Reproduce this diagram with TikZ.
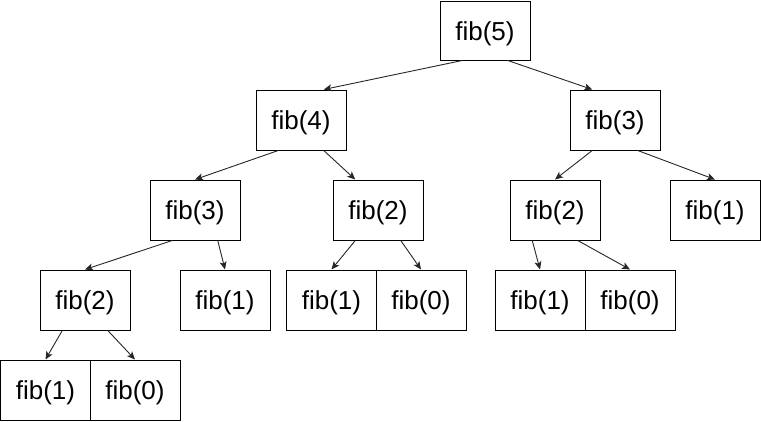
\documentclass[tikz,border=0pt]{standalone}
\usepackage{fontspec}
\setmainfont{Liberation Sans}
\usetikzlibrary{arrows.meta,calc}
\tikzset{
  fbox/.style={draw=black, line width=1pt, rectangle, minimum width=90pt, minimum height=60pt, inner sep=0pt, text height=19pt, text depth=0pt, font=\fontsize{26}{30}\selectfont},
  edge/.style={draw=black!85, line width=0.9pt, -{Stealth[length=8pt,width=7pt,inset=2pt]}}
}
\begin{document}
\begin{tikzpicture}[x=1pt,y=-1pt]
\useasboundingbox (0,0) rectangle (761,421);
\node[fbox, minimum height=59pt] (f5) at (485,30.5) {fib(5)};
\node[fbox] (f4) at (301,120) {fib(4)};
\node[fbox] (f3r) at (615,120) {fib(3)};
\node[fbox] (f3l) at (195,210) {fib(3)};
\node[fbox] (f2m) at (378,210) {fib(2)};
\node[fbox] (f2r) at (555,210) {fib(2)};
\node[fbox] (f1r) at (715,210) {fib(1)};
\node[fbox] (f2l) at (85,300) {fib(2)};
\node[fbox] (f1a) at (225,300) {fib(1)};
\node[fbox] (f1b) at (331.5,300) {fib(1)};
\node[fbox] (f0b) at (421,300) {fib(0)};
\node[fbox] (f1c) at (540,300) {fib(1)};
\node[fbox] (f0c) at (630,300) {fib(0)};
\node[fbox] (f1d) at (45.5,390) {fib(1)};
\node[fbox] (f0d) at (135,390) {fib(0)};
\draw[edge] ($(f5.south west)!0.25!(f5.south east)$) -- ($(f4.north west)!0.75!(f4.north east)$);
\draw[edge] ($(f5.south west)!0.75!(f5.south east)$) -- ($(f3r.north west)!0.25!(f3r.north east)$);
\draw[edge] ($(f4.south west)!0.25!(f4.south east)$) -- ($(f3l.north west)!0.5!(f3l.north east)$);
\draw[edge] ($(f4.south west)!0.75!(f4.south east)$) -- ($(f2m.north west)!0.25!(f2m.north east)$);
\draw[edge] ($(f3r.south west)!0.25!(f3r.south east)$) -- ($(f2r.north west)!0.5!(f2r.north east)$);
\draw[edge] ($(f3r.south west)!0.75!(f3r.south east)$) -- ($(f1r.north west)!0.5!(f1r.north east)$);
\draw[edge] ($(f3l.south west)!0.25!(f3l.south east)$) -- ($(f2l.north west)!0.5!(f2l.north east)$);
\draw[edge] ($(f3l.south west)!0.75!(f3l.south east)$) -- ($(f1a.north west)!0.5!(f1a.north east)$);
\draw[edge] ($(f2m.south west)!0.25!(f2m.south east)$) -- ($(f1b.north west)!0.5!(f1b.north east)$);
\draw[edge] ($(f2m.south west)!0.75!(f2m.south east)$) -- ($(f0b.north west)!0.5!(f0b.north east)$);
\draw[edge] ($(f2r.south west)!0.25!(f2r.south east)$) -- ($(f1c.north west)!0.5!(f1c.north east)$);
\draw[edge] ($(f2r.south west)!0.75!(f2r.south east)$) -- ($(f0c.north west)!0.5!(f0c.north east)$);
\draw[edge] ($(f2l.south west)!0.25!(f2l.south east)$) -- ($(f1d.north west)!0.5!(f1d.north east)$);
\draw[edge] ($(f2l.south west)!0.75!(f2l.south east)$) -- ($(f0d.north west)!0.5!(f0d.north east)$);
\end{tikzpicture}
\end{document}
